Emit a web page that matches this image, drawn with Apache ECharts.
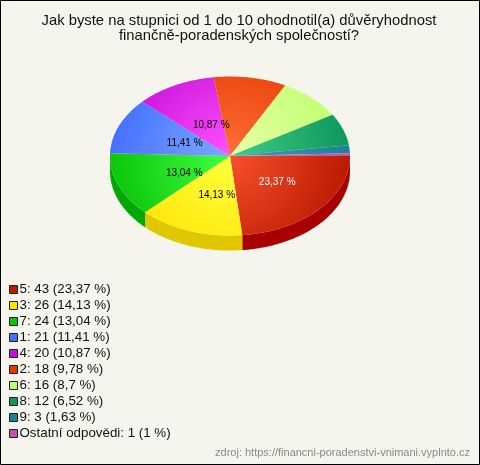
<!DOCTYPE html>
<html><head><meta charset="utf-8">
<style>html,body{margin:0;padding:0;background:#f5f5ee}#c{width:480px;height:465px}</style>
<script src="https://cdn.jsdelivr.net/npm/echarts@6/dist/echarts.min.js"></script>
</head><body><div id="c"></div>
<script>
const categories = ['5','3','7','1','4','2','6','8','9','Ostatní odpovědi'];
const counts = [43,26,24,21,20,18,16,12,3,1];
const percentTexts = ['23,37','14,13','13,04','11,41','10,87','9,78','8,7','6,52','1,63','1'];
const shownLabels = ['23,37 %','14,13 %','13,04 %','11,41 %','10,87 %','','','','',''];

const rimColors = ['#bb1a00','#ffe400','#0cc50c','#4470ff','#c810d8','#e63a00','#c0ff70','#0e985c','#1e8296','#bb55aa'];
const hubColors = ['#f8502e','#ffff40','#40ff40','#80a8ff','#ff50ff','#ff6e38','#e8ffa8','#40cc88','#3f9cb4','#dd77cc'];
const sideColors = ['#a80000','#e0c800','#00a800','#3050c0','#9000a0','#b02800','#90c050','#087040','#106070','#904080'];
const labelColors = ['#fff','#000','#000','#000','#000','#000','#000','#000','#000','#000'];
const labelReach = [[.53,.5],[.33,.53],[.41,.58],[.41,.42],[.34,.43],[.5,.5],[.5,.5],[.5,.5],[.5,.5],[.5,.5]];
const depthUnits = 0.189;

const total = counts.reduce((a,b)=>a+b,0);
let running = 0;
const spans = counts.map(v=>{const s=running;running+=v;return [s/total*2*Math.PI,running/total*2*Math.PI];});
const names = categories.map((c,i)=>`${c}: ${counts[i]} (${percentTexts[i]} %)`);

function arc(a,b){const n=Math.max(2,Math.ceil((b-a)/0.02));const r=[];for(let i=0;i<=n;i++){const t=a+(b-a)*i/n;r.push([Math.cos(t),-Math.sin(t)]);}return r;}

const series = categories.map((c,i)=>({
  type:'custom',name:names[i],coordinateSystem:'cartesian2d',
  itemStyle:{color:rimColors[i]},
  data:[[spans[i][0],spans[i][1],counts[i]]],
  encode:{x:0,y:1},clip:false,silent:true,
  renderItem(params,api){
    const a=api.value(0),b=api.value(1);
    const centre=api.coord([0,0]);
    const radius=api.size([2,0])[0]/2;
    const kids=[];
    const fa=a,fb=Math.min(b,Math.PI);
    if(fa<fb){
      const front=arc(fa,fb);
      const pts=front.map(p=>api.coord(p)).concat(front.slice().reverse().map(p=>api.coord([p[0],p[1]-depthUnits])));
      kids.push({type:'polygon',shape:{points:pts},style:{fill:sideColors[i]}});
    }
    const top=[api.coord([0,0])].concat(arc(a,b).map(p=>api.coord(p)));
    kids.push({type:'polygon',shape:{points:top},style:{
      fill:new echarts.graphic.RadialGradient(centre[0],centre[1],radius,[{offset:0,color:hubColors[i]},{offset:1,color:rimColors[i]}],true)
    }});
    if(shownLabels[i]){
      const m=(a+b)/2,k=labelReach[i];
      const p=api.coord([Math.cos(m)*k[0],-Math.sin(m)*k[1]]);
      kids.push({type:'text',x:p[0],y:p[1],z2:100,style:{text:shownLabels[i],fill:labelColors[i],font:'10px "Liberation Sans"',align:'center',verticalAlign:'middle'}});
    }
    return {type:'group',children:kids};
  }
}));

const chart=echarts.init(document.getElementById('c'),null,{renderer:'canvas'});
chart.setOption({
  animation:false,backgroundColor:'#f5f5ee',
  title:[
    {text:'Jak byste na stupnici od 1 do 10 ohodnotil(a) důvěryhodnost\nfinančně-poradenských společností?',left:234,top:8,textAlign:'center',
     textStyle:{fontFamily:'Liberation Sans',fontSize:14.8,fontWeight:'normal',color:'#111',lineHeight:15}},
    {text:'zdroj: https://financni-poradenstvi-vnimani.vyplnto.cz',right:5,top:442,
     textStyle:{fontFamily:'Liberation Sans',fontSize:11,fontWeight:'normal',color:'#888'}}
  ],
  grid:{left:110,width:240,top:76.5,height:159},
  xAxis:{type:'value',min:-1,max:1,show:false},
  yAxis:{type:'value',min:-1,max:1,show:false},
  legend:{show:true,orient:'vertical',left:9,top:283,itemWidth:8,itemHeight:8,itemGap:3,icon:'rect',
    itemStyle:{borderColor:'#222',borderWidth:1},selectedMode:false,
    textStyle:{fontFamily:'Liberation Sans',fontSize:13.33,color:'#111',padding:[0,0,0,-3]},
    padding:0,data:names},
  graphic:[{type:'rect',shape:{x:0.5,y:0.5,width:479,height:464},style:{fill:'none',stroke:'#000',lineWidth:1},silent:true,z:100}],
  series
});
</script></body></html>
